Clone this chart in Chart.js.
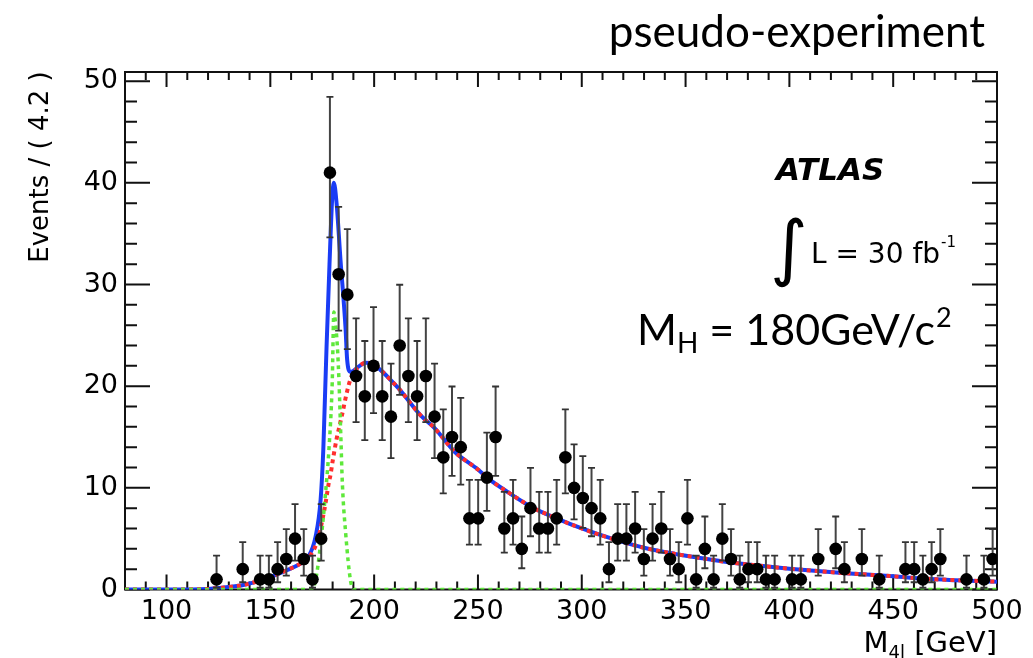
<!DOCTYPE html>
<html>
<head>
<meta charset="utf-8">
<script src="https://cdn.jsdelivr.net/npm/chart.js@4.4.1/dist/chart.umd.min.js"></script>
<style>
  html, body { margin: 0; padding: 0; background: #ffffff; }
  #c { display: block; }
</style>
</head>
<body>
<canvas id="c" width="1033" height="658"></canvas>
<script>
// ---- data ----
const massX = [124.1,136.7,145.1,149.3,153.5,157.7,161.9,166.1,170.3,174.5,
  178.7,182.9,187.1,191.3,195.5,199.7,203.9,208.1,212.3,216.5,
  220.7,224.9,229.1,233.3,237.5,241.7,245.9,250.1,254.3,258.5,
  262.7,266.9,271.1,275.3,279.5,283.7,287.9,292.1,296.3,300.5,
  304.7,308.9,313.1,317.3,321.5,325.7,329.9,334.1,338.3,342.5,
  346.7,350.9,355.1,359.3,363.5,367.7,371.9,376.1,380.3,384.5,
  388.7,392.9,401.3,405.5,413.9,422.3,426.5,434.9,443.3,455.9,
  460.1,464.3,468.5,472.7,485.3,493.7,497.9];
const events = [1,2,1,1,2,3,5,3,1,5,
  41,31,29,21,19,22,19,17,24,21,
  19,21,17,13,15,14,7,7,11,15,
  6,7,4,8,6,6,7,13,10,9,
  8,7,2,5,5,6,3,5,6,3,
  2,7,1,4,1,5,3,1,2,2,
  1,1,1,1,3,4,2,3,1,2,
  2,1,2,3,1,1,3];

// background (red dotted)
const bkgX = [80,100,120,125,130,137,147,158,165,168,170,172,174,175,176,177,178,179,180,181,
  182,183,184,185,186,187,188,189,190,193,196,199,203,208,213,218,223,229,239,250,
  255,265,276,289,300,316,330,345,358,370,385,400,427,450,466,480,500];
const bkgY = [0,0,0.05,0.15,0.25,0.45,1.0,1.9,2.6,3.0,3.6,4.4,5.8,6.8,7.8,9.0,10.3,11.3,12.6,13.8,
  14.9,15.8,16.7,17.6,18.6,19.5,20.3,20.9,21.3,22.0,22.3,22.2,21.6,20.6,19.5,18.2,17.0,15.9,13.5,11.8,
  10.9,9.5,8.1,6.9,6.0,4.9,4.1,3.5,3.07,2.7,2.35,2.05,1.6,1.3,1.05,0.92,0.77];

// signal (green dotted)
const sigX = [80,168,170,171.8,174.2,176.6,178.2,179.8,180.6,181.5,182.4,183.1,183.9,184.7,186.3,188.6,190.2,192,500];
const sigY = [0,0,0,0.9,4.5,9.5,13.7,20.3,27.3,26.0,23.5,20.3,15.4,10.4,5.5,0.9,0,0,0];

// total (blue solid)
const totX = [80,100,120,125,130,137,147,158,165,168,171.8,174.2,175.5,176.1,177.1,178.5,179.8,180.6,181.9,183.8,
  186.2,187.0,188.6,190,193,196,199,203,208,213,218,223,229,239,250,
  255,265,276,289,300,316,330,345,358,370,385,400,427,450,466,480,500];
const totY = [0,0,0.05,0.15,0.25,0.45,1.0,1.9,2.6,3.1,5.2,8.8,13.7,17.5,24.0,32.0,38.5,40.0,38.0,32.4,
  25.8,22.6,21.4,21.5,22.0,22.3,22.2,21.6,20.6,19.5,18.2,17.0,15.9,13.5,11.8,
  10.9,9.5,8.1,6.9,6.0,4.9,4.1,3.5,3.07,2.7,2.35,2.05,1.6,1.3,1.05,0.92,0.77];

const xTickLabels = [100,150,200,250,300,350,400,450,500];
const yTickLabels = [0,10,20,30,40,50];

// ---- derived (Poisson / Gehrels 1-sigma intervals) ----
function errHi(n){ return n + Math.sqrt(n + 0.75) + 1; }
function errLo(n){ return n * Math.pow(1 - 1/(9*n) - 1/(3*Math.sqrt(n)), 3); }

const pts = massX.map((x,i)=>({x, y: events[i]}));
const bars = [];
const caps = [];
massX.forEach((x,i)=>{
  const lo = errLo(events[i]), hi = errHi(events[i]);
  bars.push({x, y: lo}, {x, y: hi}, {x, y: null});
  caps.push({x, y: lo}, {x, y: hi});
});
const toXY = (xs, ys) => xs.map((x,i)=>({x, y: ys[i]}));

const framePlugin = {
  id: 'rootFrame',
  beforeDatasetsDraw(chart){
    const {ctx, chartArea: a, scales: {x, y}} = chart;
    ctx.save();
    ctx.strokeStyle = '#111';
    ctx.lineWidth = 2;
    ctx.strokeRect(a.left, a.top, a.right - a.left, a.bottom - a.top);
    ctx.beginPath();
    for (let v = 80; v <= 500; v += 10) {
      const px = x.getPixelForValue(v);
      const L = xTickLabels.includes(v) ? 15 : 8;
      ctx.moveTo(px, a.bottom); ctx.lineTo(px, a.bottom - L);
      ctx.moveTo(px, a.top); ctx.lineTo(px, a.top + L);
    }
    for (let v = 0; v <= 50; v += 2) {
      const py = y.getPixelForValue(v);
      const L = yTickLabels.includes(v) ? 25 : 12;
      ctx.moveTo(a.left, py); ctx.lineTo(a.left + L, py);
      ctx.moveTo(a.right, py); ctx.lineTo(a.right - L, py);
    }
    ctx.stroke();
    ctx.restore();
  },
  afterDraw(chart){
    const c = chart.ctx;
    c.save();
    c.fillStyle = '#000';
    c.textBaseline = 'alphabetic';
    // title overlay
    c.font = '44px Lato';
    c.textAlign = 'right';
    c.fillText('pseudo-experiment', 985, 47);
    // ATLAS
    c.textAlign = 'left';
    c.font = 'italic bold 31px "DejaVu Sans"';
    c.fillText('ATLAS', 776, 180);
    // integral L
    c.font = '72px "DejaVu Sans"';
    c.fillText('\u222B', 770, 272);
    c.font = '28px "DejaVu Sans"';
    const lt = 'L = 30 fb';
    c.fillText(lt, 811, 263);
    const lw = c.measureText(lt).width;
    c.font = '15px "DejaVu Sans"';
    c.fillText('-1', 811 + lw + 1, 247);
    // M_H = 180GeV/c^2
    let xx = 637;
    c.font = '43px Lato';
    c.fillText('M', xx, 345); xx += c.measureText('M').width;
    c.font = '28px Lato';
    c.fillText('H', xx, 353); xx += c.measureText('H').width;
    c.font = '43px Lato';
    const mid = ' = 180GeV/c';
    c.fillText(mid, xx, 345); xx += c.measureText(mid).width;
    c.font = '27px Lato';
    c.fillText('2', xx + 1, 327);
    // y title
    c.save();
    c.translate(48, 167);
    c.rotate(-Math.PI/2);
    c.textAlign = 'center';
    c.font = '26px "DejaVu Sans"';
    c.fillText('Events / ( 4.2 )', 0, 0);
    c.restore();
    // x title, right aligned
    c.textAlign = 'left';
    const big = '29px "DejaVu Sans"', small = '18px "DejaVu Sans"';
    c.font = big; const wM = c.measureText('M').width; const wR = c.measureText(' [GeV]').width;
    c.font = small; const wS = c.measureText('4l').width;
    let sx = 997 - (wM + wS + wR);
    c.font = big; c.fillText('M', sx, 652); sx += wM;
    c.font = small; c.fillText('4l', sx, 658); sx += wS;
    c.font = big; c.fillText(' [GeV]', sx, 652);
    c.restore();
  }
};

new Chart(document.getElementById('c').getContext('2d'), {
  type: 'scatter',
  data: {
    datasets: [
      { type: 'scatter', data: pts, pointRadius: 6.3, pointHoverRadius: 6.3,
        backgroundColor: '#000', borderWidth: 0, order: 0 },
      { type: 'scatter', data: caps, pointStyle: 'line', pointRadius: 3.5, pointHoverRadius: 3.5,
        borderColor: '#333', borderWidth: 1.8, order: 1 },
      { type: 'line', data: bars, borderColor: '#444', borderWidth: 2, pointRadius: 0,
        spanGaps: false, tension: 0, order: 2 },
      { type: 'line', data: toXY(sigX, sigY), borderColor: '#5ee83a', borderWidth: 3.5,
        borderDash: [4, 4], pointRadius: 0, cubicInterpolationMode: 'monotone', order: 3 },
      { type: 'line', data: toXY(bkgX, bkgY), borderColor: '#ff2e2e', borderWidth: 4,
        borderDash: [4, 4], pointRadius: 0, cubicInterpolationMode: 'monotone', order: 4 },
      { type: 'line', data: toXY(totX, totY), borderColor: '#1a3cf5', borderWidth: 4,
        pointRadius: 0, cubicInterpolationMode: 'monotone', order: 5 }
    ]
  },
  options: {
    responsive: false,
    animation: false,
    events: [],
    layout: { padding: { top: 72, right: 36, left: 0, bottom: 0 } },
    plugins: { legend: { display: false }, tooltip: { enabled: false }, title: { display: false } },
    scales: {
      x: {
        type: 'linear', min: 80, max: 500,
        afterBuildTicks: s => { s.ticks = xTickLabels.map(v => ({ value: v })); },
        afterFit: s => { s.height = 68.5; },
        grid: { display: false, drawTicks: false },
        border: { display: false },
        ticks: { font: { family: 'DejaVu Sans', size: 27 }, color: '#000', padding: 6,
                 maxRotation: 0, autoSkip: false }
      },
      y: {
        type: 'linear', min: 0, max: 50.9,
        afterBuildTicks: s => { s.ticks = yTickLabels.map(v => ({ value: v })); },
        afterFit: s => { s.width = 125; },
        grid: { display: false, drawTicks: false },
        border: { display: false },
        ticks: { font: { family: 'DejaVu Sans', size: 27 }, color: '#000', padding: 7, autoSkip: false }
      }
    }
  },
  plugins: [framePlugin]
});
</script>
</body>
</html>
